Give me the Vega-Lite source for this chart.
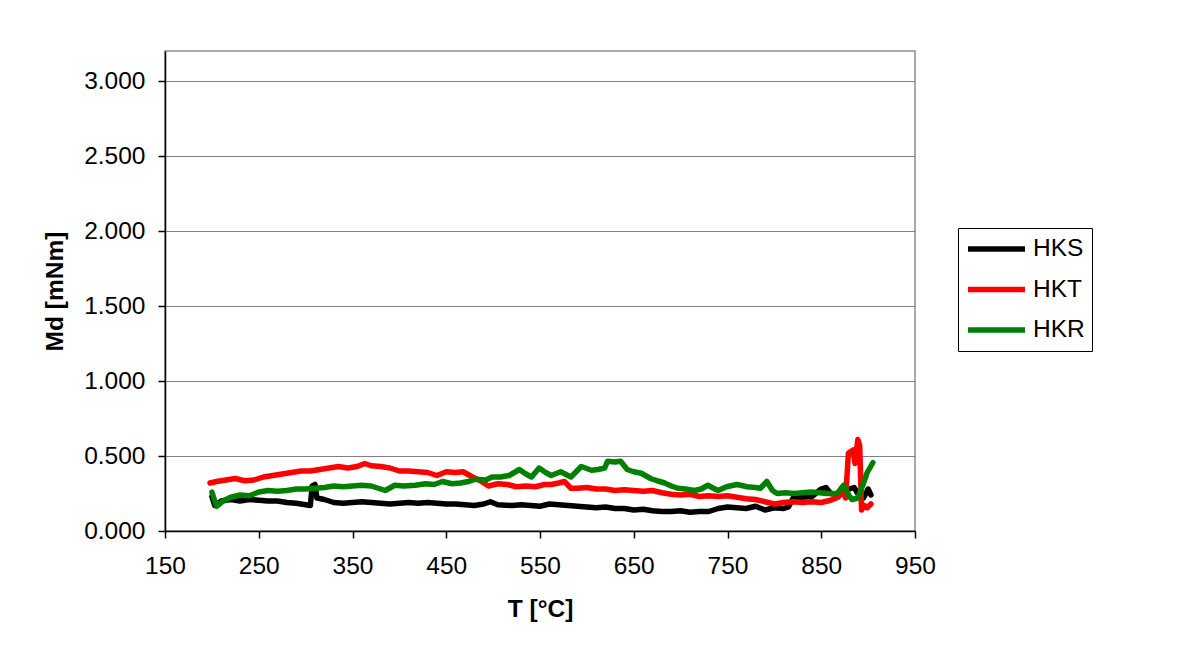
{
  "$schema": "https://vega.github.io/schema/vega-lite/v6.json",
  "width": 750,
  "height": 480,
  "autosize": "none",
  "padding": {"left": 165, "top": 51, "right": 269, "bottom": 117},
  "background": "#ffffff",
  "config": {
    "font": "Liberation Sans",
    "view": {"stroke": "#8c8c8c", "strokeWidth": 1.5},
    "axis": {
      "labelFont": "Liberation Sans",
      "titleFont": "Liberation Sans",
      "labelFontSize": 24.5,
      "titleFontSize": 24.5,
      "titleFontWeight": "bold",
      "labelColor": "#000000",
      "titleColor": "#000000",
      "domainColor": "#000000",
      "domainWidth": 1.5,
      "tickColor": "#000000",
      "tickWidth": 1.5,
      "tickSize": 7,
      "gridColor": "#808080",
      "gridWidth": 1.2,
      "labelFlush": false
    }
  },
  "data": {
    "values": [
      {"s": "HKS", "T": 200, "v": 0.23}, {"s": "HKS", "T": 203, "v": 0.17}, {"s": "HKS", "T": 210, "v": 0.2},
      {"s": "HKS", "T": 220, "v": 0.21}, {"s": "HKS", "T": 230, "v": 0.2}, {"s": "HKS", "T": 240, "v": 0.21},
      {"s": "HKS", "T": 250, "v": 0.205}, {"s": "HKS", "T": 260, "v": 0.2}, {"s": "HKS", "T": 270, "v": 0.2},
      {"s": "HKS", "T": 280, "v": 0.19}, {"s": "HKS", "T": 290, "v": 0.185}, {"s": "HKS", "T": 300, "v": 0.175},
      {"s": "HKS", "T": 305, "v": 0.17}, {"s": "HKS", "T": 307, "v": 0.3}, {"s": "HKS", "T": 310, "v": 0.31},
      {"s": "HKS", "T": 312, "v": 0.22}, {"s": "HKS", "T": 320, "v": 0.21}, {"s": "HKS", "T": 330, "v": 0.19},
      {"s": "HKS", "T": 340, "v": 0.185}, {"s": "HKS", "T": 350, "v": 0.19}, {"s": "HKS", "T": 360, "v": 0.195},
      {"s": "HKS", "T": 370, "v": 0.19}, {"s": "HKS", "T": 380, "v": 0.185}, {"s": "HKS", "T": 390, "v": 0.18},
      {"s": "HKS", "T": 400, "v": 0.185}, {"s": "HKS", "T": 410, "v": 0.19}, {"s": "HKS", "T": 420, "v": 0.185},
      {"s": "HKS", "T": 430, "v": 0.19}, {"s": "HKS", "T": 440, "v": 0.185}, {"s": "HKS", "T": 450, "v": 0.18},
      {"s": "HKS", "T": 460, "v": 0.18}, {"s": "HKS", "T": 470, "v": 0.175}, {"s": "HKS", "T": 480, "v": 0.17},
      {"s": "HKS", "T": 490, "v": 0.18}, {"s": "HKS", "T": 497, "v": 0.195}, {"s": "HKS", "T": 505, "v": 0.175},
      {"s": "HKS", "T": 520, "v": 0.17}, {"s": "HKS", "T": 530, "v": 0.175}, {"s": "HKS", "T": 540, "v": 0.17},
      {"s": "HKS", "T": 550, "v": 0.165}, {"s": "HKS", "T": 560, "v": 0.18}, {"s": "HKS", "T": 570, "v": 0.175},
      {"s": "HKS", "T": 580, "v": 0.17}, {"s": "HKS", "T": 590, "v": 0.165}, {"s": "HKS", "T": 600, "v": 0.16},
      {"s": "HKS", "T": 610, "v": 0.155}, {"s": "HKS", "T": 620, "v": 0.16}, {"s": "HKS", "T": 630, "v": 0.15},
      {"s": "HKS", "T": 640, "v": 0.15}, {"s": "HKS", "T": 650, "v": 0.14}, {"s": "HKS", "T": 660, "v": 0.145},
      {"s": "HKS", "T": 670, "v": 0.135}, {"s": "HKS", "T": 680, "v": 0.13}, {"s": "HKS", "T": 690, "v": 0.13},
      {"s": "HKS", "T": 700, "v": 0.135}, {"s": "HKS", "T": 710, "v": 0.125}, {"s": "HKS", "T": 720, "v": 0.13},
      {"s": "HKS", "T": 730, "v": 0.13}, {"s": "HKS", "T": 740, "v": 0.15}, {"s": "HKS", "T": 750, "v": 0.16},
      {"s": "HKS", "T": 760, "v": 0.155}, {"s": "HKS", "T": 770, "v": 0.15}, {"s": "HKS", "T": 780, "v": 0.165},
      {"s": "HKS", "T": 790, "v": 0.14}, {"s": "HKS", "T": 800, "v": 0.155}, {"s": "HKS", "T": 810, "v": 0.15},
      {"s": "HKS", "T": 815, "v": 0.16}, {"s": "HKS", "T": 820, "v": 0.22}, {"s": "HKS", "T": 830, "v": 0.225},
      {"s": "HKS", "T": 840, "v": 0.23}, {"s": "HKS", "T": 850, "v": 0.28}, {"s": "HKS", "T": 855, "v": 0.29},
      {"s": "HKS", "T": 860, "v": 0.25}, {"s": "HKS", "T": 870, "v": 0.24}, {"s": "HKS", "T": 880, "v": 0.28},
      {"s": "HKS", "T": 885, "v": 0.29}, {"s": "HKS", "T": 890, "v": 0.24}, {"s": "HKS", "T": 895, "v": 0.22},
      {"s": "HKS", "T": 900, "v": 0.28}, {"s": "HKS", "T": 903, "v": 0.24},

      {"s": "HKT", "T": 198, "v": 0.32}, {"s": "HKT", "T": 205, "v": 0.33}, {"s": "HKT", "T": 215, "v": 0.34},
      {"s": "HKT", "T": 225, "v": 0.35}, {"s": "HKT", "T": 235, "v": 0.335}, {"s": "HKT", "T": 245, "v": 0.34},
      {"s": "HKT", "T": 255, "v": 0.36}, {"s": "HKT", "T": 265, "v": 0.37}, {"s": "HKT", "T": 275, "v": 0.38},
      {"s": "HKT", "T": 285, "v": 0.39}, {"s": "HKT", "T": 295, "v": 0.4}, {"s": "HKT", "T": 305, "v": 0.4},
      {"s": "HKT", "T": 315, "v": 0.41}, {"s": "HKT", "T": 325, "v": 0.42}, {"s": "HKT", "T": 335, "v": 0.43},
      {"s": "HKT", "T": 345, "v": 0.42}, {"s": "HKT", "T": 355, "v": 0.43}, {"s": "HKT", "T": 363, "v": 0.45},
      {"s": "HKT", "T": 370, "v": 0.435}, {"s": "HKT", "T": 380, "v": 0.43}, {"s": "HKT", "T": 390, "v": 0.42},
      {"s": "HKT", "T": 400, "v": 0.4}, {"s": "HKT", "T": 410, "v": 0.4}, {"s": "HKT", "T": 420, "v": 0.395},
      {"s": "HKT", "T": 430, "v": 0.39}, {"s": "HKT", "T": 440, "v": 0.37}, {"s": "HKT", "T": 450, "v": 0.395},
      {"s": "HKT", "T": 460, "v": 0.39}, {"s": "HKT", "T": 468, "v": 0.395}, {"s": "HKT", "T": 478, "v": 0.36},
      {"s": "HKT", "T": 485, "v": 0.34}, {"s": "HKT", "T": 495, "v": 0.3}, {"s": "HKT", "T": 505, "v": 0.315},
      {"s": "HKT", "T": 515, "v": 0.31}, {"s": "HKT", "T": 525, "v": 0.295}, {"s": "HKT", "T": 535, "v": 0.3},
      {"s": "HKT", "T": 545, "v": 0.295}, {"s": "HKT", "T": 555, "v": 0.31}, {"s": "HKT", "T": 562, "v": 0.31},
      {"s": "HKT", "T": 570, "v": 0.32}, {"s": "HKT", "T": 576, "v": 0.33}, {"s": "HKT", "T": 583, "v": 0.285},
      {"s": "HKT", "T": 590, "v": 0.285}, {"s": "HKT", "T": 600, "v": 0.29}, {"s": "HKT", "T": 610, "v": 0.28},
      {"s": "HKT", "T": 620, "v": 0.28}, {"s": "HKT", "T": 630, "v": 0.27}, {"s": "HKT", "T": 640, "v": 0.275},
      {"s": "HKT", "T": 650, "v": 0.27}, {"s": "HKT", "T": 660, "v": 0.265}, {"s": "HKT", "T": 670, "v": 0.27},
      {"s": "HKT", "T": 680, "v": 0.255}, {"s": "HKT", "T": 690, "v": 0.245}, {"s": "HKT", "T": 700, "v": 0.24},
      {"s": "HKT", "T": 710, "v": 0.245}, {"s": "HKT", "T": 720, "v": 0.23}, {"s": "HKT", "T": 730, "v": 0.235},
      {"s": "HKT", "T": 740, "v": 0.23}, {"s": "HKT", "T": 750, "v": 0.235}, {"s": "HKT", "T": 760, "v": 0.225},
      {"s": "HKT", "T": 770, "v": 0.215}, {"s": "HKT", "T": 780, "v": 0.21}, {"s": "HKT", "T": 790, "v": 0.195},
      {"s": "HKT", "T": 800, "v": 0.18}, {"s": "HKT", "T": 810, "v": 0.19}, {"s": "HKT", "T": 820, "v": 0.195},
      {"s": "HKT", "T": 830, "v": 0.19}, {"s": "HKT", "T": 840, "v": 0.195}, {"s": "HKT", "T": 850, "v": 0.19},
      {"s": "HKT", "T": 860, "v": 0.205}, {"s": "HKT", "T": 868, "v": 0.225}, {"s": "HKT", "T": 872, "v": 0.29},
      {"s": "HKT", "T": 876, "v": 0.22}, {"s": "HKT", "T": 879, "v": 0.52}, {"s": "HKT", "T": 884, "v": 0.54},
      {"s": "HKT", "T": 886, "v": 0.45}, {"s": "HKT", "T": 889, "v": 0.61}, {"s": "HKT", "T": 891, "v": 0.57},
      {"s": "HKT", "T": 893, "v": 0.14}, {"s": "HKT", "T": 896, "v": 0.17}, {"s": "HKT", "T": 899, "v": 0.155},
      {"s": "HKT", "T": 903, "v": 0.18},

      {"s": "HKR", "T": 200, "v": 0.26}, {"s": "HKR", "T": 205, "v": 0.165}, {"s": "HKR", "T": 212, "v": 0.2},
      {"s": "HKR", "T": 220, "v": 0.225}, {"s": "HKR", "T": 230, "v": 0.24}, {"s": "HKR", "T": 240, "v": 0.235},
      {"s": "HKR", "T": 250, "v": 0.26}, {"s": "HKR", "T": 260, "v": 0.27}, {"s": "HKR", "T": 270, "v": 0.265},
      {"s": "HKR", "T": 280, "v": 0.27}, {"s": "HKR", "T": 290, "v": 0.28}, {"s": "HKR", "T": 300, "v": 0.28},
      {"s": "HKR", "T": 310, "v": 0.285}, {"s": "HKR", "T": 320, "v": 0.29}, {"s": "HKR", "T": 330, "v": 0.3},
      {"s": "HKR", "T": 340, "v": 0.295}, {"s": "HKR", "T": 350, "v": 0.3}, {"s": "HKR", "T": 360, "v": 0.305},
      {"s": "HKR", "T": 370, "v": 0.3}, {"s": "HKR", "T": 380, "v": 0.28}, {"s": "HKR", "T": 385, "v": 0.27},
      {"s": "HKR", "T": 395, "v": 0.305}, {"s": "HKR", "T": 405, "v": 0.3}, {"s": "HKR", "T": 417, "v": 0.305},
      {"s": "HKR", "T": 428, "v": 0.315}, {"s": "HKR", "T": 437, "v": 0.31}, {"s": "HKR", "T": 446, "v": 0.33},
      {"s": "HKR", "T": 456, "v": 0.315}, {"s": "HKR", "T": 465, "v": 0.32}, {"s": "HKR", "T": 474, "v": 0.33},
      {"s": "HKR", "T": 481, "v": 0.345}, {"s": "HKR", "T": 492, "v": 0.34}, {"s": "HKR", "T": 499, "v": 0.36},
      {"s": "HKR", "T": 508, "v": 0.36}, {"s": "HKR", "T": 517, "v": 0.37}, {"s": "HKR", "T": 528, "v": 0.41},
      {"s": "HKR", "T": 535, "v": 0.38}, {"s": "HKR", "T": 541, "v": 0.36}, {"s": "HKR", "T": 549, "v": 0.42},
      {"s": "HKR", "T": 556, "v": 0.39}, {"s": "HKR", "T": 562, "v": 0.37}, {"s": "HKR", "T": 572, "v": 0.395},
      {"s": "HKR", "T": 583, "v": 0.36}, {"s": "HKR", "T": 594, "v": 0.43}, {"s": "HKR", "T": 605, "v": 0.405},
      {"s": "HKR", "T": 612, "v": 0.41}, {"s": "HKR", "T": 619, "v": 0.42}, {"s": "HKR", "T": 622, "v": 0.465},
      {"s": "HKR", "T": 630, "v": 0.46}, {"s": "HKR", "T": 636, "v": 0.465}, {"s": "HKR", "T": 643, "v": 0.41},
      {"s": "HKR", "T": 650, "v": 0.395}, {"s": "HKR", "T": 658, "v": 0.385}, {"s": "HKR", "T": 668, "v": 0.35},
      {"s": "HKR", "T": 675, "v": 0.335}, {"s": "HKR", "T": 683, "v": 0.32}, {"s": "HKR", "T": 690, "v": 0.3},
      {"s": "HKR", "T": 697, "v": 0.285}, {"s": "HKR", "T": 705, "v": 0.28}, {"s": "HKR", "T": 715, "v": 0.27},
      {"s": "HKR", "T": 722, "v": 0.28}, {"s": "HKR", "T": 729, "v": 0.305}, {"s": "HKR", "T": 735, "v": 0.285},
      {"s": "HKR", "T": 740, "v": 0.27}, {"s": "HKR", "T": 749, "v": 0.295}, {"s": "HKR", "T": 760, "v": 0.31},
      {"s": "HKR", "T": 771, "v": 0.295}, {"s": "HKR", "T": 780, "v": 0.29}, {"s": "HKR", "T": 785, "v": 0.285},
      {"s": "HKR", "T": 792, "v": 0.33}, {"s": "HKR", "T": 798, "v": 0.27}, {"s": "HKR", "T": 803, "v": 0.25},
      {"s": "HKR", "T": 812, "v": 0.255}, {"s": "HKR", "T": 821, "v": 0.25}, {"s": "HKR", "T": 830, "v": 0.255},
      {"s": "HKR", "T": 839, "v": 0.26}, {"s": "HKR", "T": 848, "v": 0.255}, {"s": "HKR", "T": 856, "v": 0.25},
      {"s": "HKR", "T": 867, "v": 0.25}, {"s": "HKR", "T": 874, "v": 0.305}, {"s": "HKR", "T": 880, "v": 0.23},
      {"s": "HKR", "T": 883, "v": 0.21}, {"s": "HKR", "T": 889, "v": 0.22}, {"s": "HKR", "T": 894, "v": 0.3},
      {"s": "HKR", "T": 899, "v": 0.39}, {"s": "HKR", "T": 905, "v": 0.455}
    ]
  },
  "mark": {"type": "line", "strokeWidth": 5.5, "strokeJoin": "round", "strokeCap": "round"},
  "encoding": {
    "x": {
      "field": "T",
      "type": "quantitative",
      "scale": {"domain": [150, 950], "nice": false, "zero": false},
      "axis": {
        "title": "T [°C]",
        "values": [150, 250, 350, 450, 550, 650, 750, 850, 950],
        "grid": false,
        "labelPadding": 16,
        "titlePadding": 20
      }
    },
    "y": {
      "field": "v",
      "type": "quantitative",
      "scale": {"domain": [0, 3.2], "nice": false},
      "axis": {
        "title": "Md [mNm]",
        "values": [0, 0.5, 1, 1.5, 2, 2.5, 3],
        "format": ".3f",
        "grid": true,
        "labelPadding": 13,
        "titleX": -110,
        "titleY": 240,
        "titleAlign": "center",
        "titleBaseline": "middle",
        "titleAngle": -90
      }
    },
    "color": {
      "field": "s",
      "type": "nominal",
      "scale": {"domain": ["HKS", "HKT", "HKR"], "range": ["#000000", "#ff0000", "#008000"]},
      "legend": {
        "title": null,
        "orient": "none",
        "legendX": 793,
        "legendY": 177,
        "symbolType": "stroke",
        "symbolStrokeWidth": 5.5,
        "symbolSize": 3249,
        "clipHeight": 28,
        "rowPadding": 12.5,
        "labelFont": "Liberation Sans",
        "labelFontSize": 24.5,
        "labelColor": "#000000",
        "labelOffset": 5,
        "strokeColor": "#000000",
        "fillColor": "#ffffff",
        "padding": 7
      }
    }
  }
}
